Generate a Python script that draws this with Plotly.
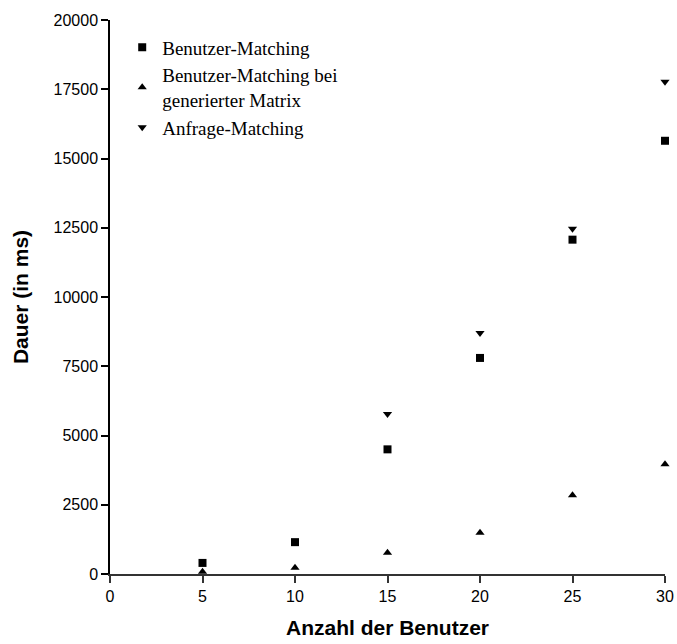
import plotly.graph_objects as go

anzahl = [5, 10, 15, 20, 25, 30]
benutzer_matching = [400, 1150, 4500, 7800, 12070, 15640]
benutzer_matching_gen = [80, 230, 770, 1490, 2840, 3960]
anfrage_matching = [None, None, 5780, 8700, 12460, 17770]

names = ["Benutzer-Matching", "Benutzer-Matching bei<br>generierter Matrix", "Anfrage-Matching"]
y_ticks = [0, 2500, 5000, 7500, 10000, 12500, 15000, 17500, 20000]
y_ticktext = [str(v) for v in y_ticks]
x_ticks = [0, 5, 10, 15, 20, 25, 30]
x_ticktext = [str(v) for v in x_ticks]

fig = go.Figure()
fig.add_trace(go.Scatter(x=anzahl, y=benutzer_matching, mode="markers", name=names[0],
                         marker=dict(symbol="square", size=8, color="black")))
fig.add_trace(go.Scatter(x=anzahl, y=benutzer_matching_gen, mode="markers", name=names[1],
                         marker=dict(symbol="triangle-up", size=8, color="black")))
fig.add_trace(go.Scatter(x=anzahl, y=anfrage_matching, mode="markers", name=names[2],
                         marker=dict(symbol="triangle-down", size=8, color="black")))
fig.update_traces(cliponaxis=False)

axis_font = dict(family="Liberation Sans, Arial, sans-serif", size=16, color="black")
title_font = dict(family="Liberation Sans, Arial, sans-serif", size=21, color="black")

fig.update_layout(
    width=677, height=644,
    margin=dict(l=110, r=12, t=20, b=70),
    plot_bgcolor="white", paper_bgcolor="white",
    showlegend=True,
    legend=dict(x=0.022, y=0.985, xanchor="left", yanchor="top",
                bgcolor="rgba(0,0,0,0)",
                font=dict(family="Liberation Serif, Times New Roman, serif", size=19, color="black"),
                tracegroupgap=0),
    xaxis=dict(range=[0, 30], tickvals=x_ticks, ticktext=x_ticktext, ticks="outside", ticklen=7,
               tickwidth=1.5, tickcolor="#333", showline=True, linecolor="#333", linewidth=2,
               showgrid=False, zeroline=False, tickfont=axis_font,
               title=dict(text="<b>Anzahl der Benutzer</b>", font=title_font, standoff=16),
               automargin=False),
    yaxis=dict(range=[0, 20000], tickvals=y_ticks, ticktext=y_ticktext, ticks="outside", ticklen=7,
               tickwidth=1.5, tickcolor="black", showline=True, linecolor="black", linewidth=1.5,
               showgrid=False, zeroline=False, tickfont=axis_font,
               title=dict(text="<b>Dauer (in ms)</b>", font=title_font, standoff=19),
               automargin=False),
)

fig.write_html("out.html")
